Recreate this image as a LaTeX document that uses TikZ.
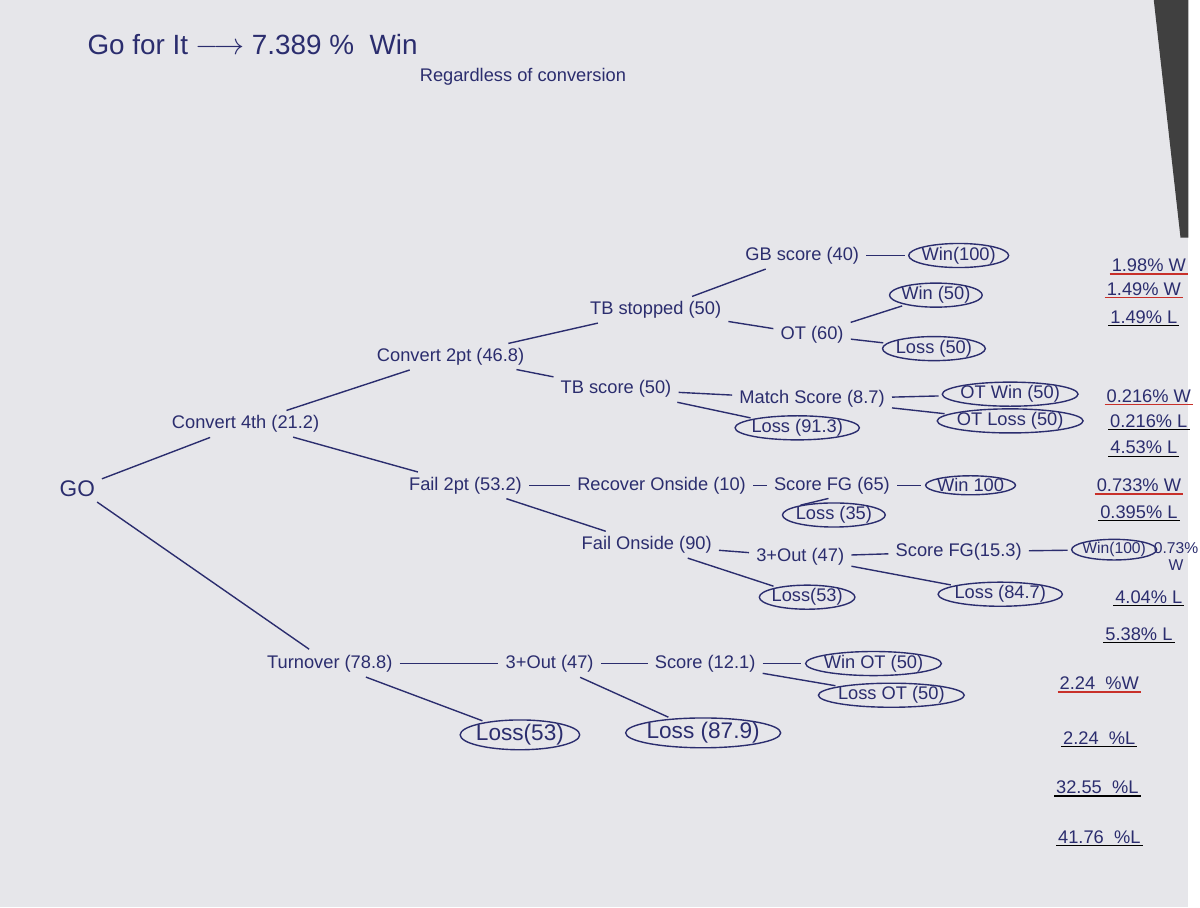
\documentclass[tikz,border=0pt]{standalone}
\usepackage{fontspec}
\setmainfont{Liberation Sans}
\usetikzlibrary{shapes.geometric}
\definecolor{ink}{HTML}{2B2D6E}
\definecolor{paper}{HTML}{E6E6EA}
\definecolor{redl}{HTML}{C8302A}
\tikzset{
 t/.style={text=ink,font=\fontsize{10.5}{12}\selectfont,inner sep=2pt},
 c/.style={t,draw=ink,ellipse,thick,inner xsep=-1pt,inner ysep=0pt},
 r/.style={text=ink,font=\fontsize{10.5}{12}\selectfont,inner sep=1pt},
 e/.style={draw=ink,thick,shorten >=2pt,shorten <=2pt},
 ul/.style={thick}
}
\begin{document}
\begin{tikzpicture}[x=0.02cm,y=-0.02cm]
\fill[paper] (0,0) rectangle (1200,916);
\fill[black!75] (1165,0) -- (1200,0) -- (1200,240) -- (1192,240) -- cycle;
\node[t,font=\fontsize{16}{19}\selectfont] (title) at (255,45) {Go for It $\longrightarrow$ 7.389 \%\ \ Win};
\node[t] (sub) at (528,78) {Regardless of conversion};
\node[t,font=\fontsize{13}{15}\selectfont] (go) at (78,493) {GO};
\node[t] (c4) at (248,428) {Convert 4th (21.2)};
\node[t] (to) at (333,670) {Turnover (78.8)};
\node[t] (c2) at (455,360) {Convert 2pt (46.8)};
\node[t] (f2) at (470,490) {Fail 2pt (53.2)};
\node[t] (tbs) at (662,313) {TB stopped (50)};
\node[t] (tbc) at (622,393) {TB score (50)};
\node[t] (gb) at (810,258) {GB score (40)};
\node[c] (w1) at (968,258) {Win(100)};
\node[t] (ot) at (820,338) {OT (60)};
\node[c] (w2) at (945,298) {Win (50)};
\node[c] (l2) at (943,352) {Loss (50)};
\node[t] (ms) at (820,403) {Match Score (8.7)};
\node[c] (l3) at (805,432) {Loss (91.3)};
\node[c] (otw) at (1020,398) {OT Win (50)};
\node[c] (otl) at (1020,425) {OT Loss (50)};
\node[t] (ro) at (668,490) {Recover Onside (10)};
\node[t] (sf) at (840,490) {Score FG (65)};
\node[c] (w4) at (980,490) {Win 100};
\node[c] (l4) at (842,520) {Loss (35)};
\node[t] (fo) at (653,550) {Fail Onside (90)};
\node[t] (to3) at (808,562) {3+Out (47)};
\node[t] (sf2) at (968,557) {Score FG(15.3)};
\node[c,font=\fontsize{9}{10}\selectfont] (w5) at (1125,555) {Win(100)};
\node[c] (l5) at (815,603) {Loss(53)};
\node[c] (l6) at (1010,600) {Loss (84.7)};
\node[t] (t3) at (555,670) {3+Out (47)};
\node[t] (sc) at (712,670) {Score (12.1)};
\node[c] (wot) at (882,670) {Win OT (50)};
\node[c] (lot) at (900,702) {Loss OT (50)};
\node[c,font=\fontsize{13}{15}\selectfont] (l7) at (525,742) {Loss(53)};
\node[c,font=\fontsize{13}{15}\selectfont] (l8) at (710,740) {Loss (87.9)};
\draw[e] (go) -- (c4); \draw[e] (go) -- (to);
\draw[e] (c4) -- (c2); \draw[e] (c4) -- (f2);
\draw[e] (c2) -- (tbs); \draw[e] (c2) -- (tbc);
\draw[e] (tbs) -- (gb); \draw[e] (tbs) -- (ot);
\draw[e] (gb) -- (w1); \draw[e] (ot) -- (w2); \draw[e] (ot) -- (l2);
\draw[e] (tbc) -- (ms); \draw[e] (tbc) -- (l3);
\draw[e] (ms) -- (otw); \draw[e] (ms) -- (otl);
\draw[e] (f2) -- (ro); \draw[e] (f2) -- (fo);
\draw[e] (ro) -- (sf); \draw[e] (sf) -- (w4); \draw[e] (sf.south) -- (l4.north west);
\draw[e] (fo) -- (to3); \draw[e] (fo) -- (l5);
\draw[e] (to3) -- (sf2); \draw[e] (to3) -- (l6); \draw[e] (sf2) -- (w5);
\draw[e] (to) -- (t3); \draw[e] (to) -- (l7);
\draw[e] (t3) -- (sc); \draw[e] (t3) -- (l8);
\draw[e] (sc) -- (wot); \draw[e] (sc) -- (lot);
% results
\node[r] (p1) at (1160,268) {1.98\% W}; \draw[redl,ul] (p1.south west) -- (p1.south east);
\node[r] (p2) at (1155,292) {1.49\% W}; \draw[redl,ul] (p2.south west) -- (p2.south east);
\node[r] (p3) at (1155,320) {1.49\% L}; \draw[black,ul] (p3.south west) -- (p3.south east);
\node[r] (p4) at (1160,400) {0.216\% W}; \draw[redl,ul] (p4.south west) -- (p4.south east);
\node[r] (p5) at (1160,425) {0.216\% L}; \draw[black,ul] (p5.south west) -- (p5.south east);
\node[r] (p6) at (1155,452) {4.53\% L}; \draw[black,ul] (p6.south west) -- (p6.south east);
\node[r] (p7) at (1150,490) {0.733\% W}; \draw[redl,ul] (p7.south west) -- (p7.south east);
\node[r] (p8) at (1150,517) {0.395\% L}; \draw[black,ul] (p8.south west) -- (p8.south east);
\node[r,font=\fontsize{9}{10}\selectfont,align=center,anchor=west] (p9) at (1163,562) {0.73\%\\W};
\node[r] (p10) at (1160,603) {4.04\% L}; \draw[black,ul] (p10.south west) -- (p10.south east);
\node[r] (p11) at (1150,640) {5.38\% L}; \draw[black,ul] (p11.south west) -- (p11.south east);
\node[r] (p12) at (1110,690) {2.24 \ \%W}; \draw[redl,ul] (p12.south west) -- (p12.south east);
\node[r] (p13) at (1110,745) {2.24 \ \%L}; \draw[black,ul] (p13.south west) -- (p13.south east);
\node[r] (p14) at (1108,795) {32.55 \ \%L}; \draw[black,ul] (p14.south west) -- (p14.south east);
\node[r] (p15) at (1110,845) {41.76 \ \%L}; \draw[black,ul] (p15.south west) -- (p15.south east);
\end{tikzpicture}
\end{document}
